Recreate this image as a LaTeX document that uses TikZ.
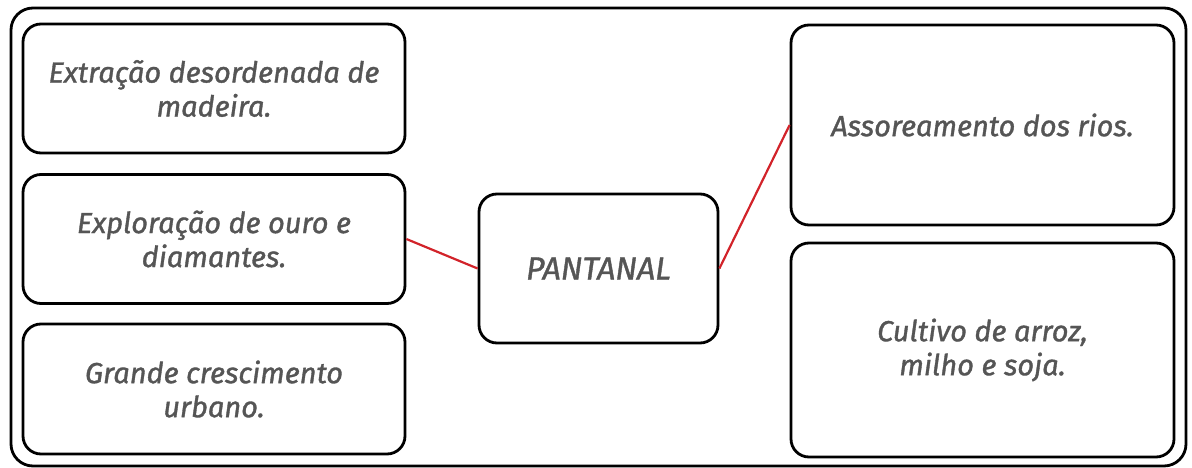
\documentclass[tikz,border=0pt]{standalone}
\usepackage{fontspec}
\setmainfont{Fira Sans}[ItalicFeatures={FakeBold=1.2}]
\definecolor{txtgray}{HTML}{555555}
\definecolor{linkred}{HTML}{D2232A}
\begin{document}
\begin{tikzpicture}[x=1pt,y=-1pt,
  card/.style={draw=black, line width=2.8pt, rounded corners=18pt, fill=white,
    inner sep=0pt, align=center, text=txtgray,
    font=\fontsize{29}{34}\selectfont\itshape},
  link/.style={draw=linkred, line width=2.2pt}]
\useasboundingbox (0,0) rectangle (1192,468);
\draw[line width=2.8pt, rounded corners=22pt] (11,8) rectangle (1186,466);
\node[card, minimum width=382pt, minimum height=129pt] (b1) at (214,88.5) {Extração desordenada de\\madeira.};
\node[card, minimum width=382pt, minimum height=129pt] (b2) at (214,239) {Exploração de ouro e\\diamantes.};
\node[card, minimum width=382pt, minimum height=130pt] (b3) at (214,389) {Grande crescimento\\urbano.};
\node[card, minimum width=239pt, minimum height=149pt, font=\fontsize{32}{38}\selectfont\itshape] (c) at (598.5,268.5) {PANTANAL};
\node[card, minimum width=383pt, minimum height=200pt] (r1) at (982.5,125) {Assoreamento dos rios.};
\node[card, minimum width=383pt, minimum height=214pt] (r2) at (982.5,350) {Cultivo de arroz,\\milho e soja.};
\draw[link] (b2.east) -- (c.west);
\draw[link] (c.east) -- (r1.west);
\end{tikzpicture}
\end{document}
